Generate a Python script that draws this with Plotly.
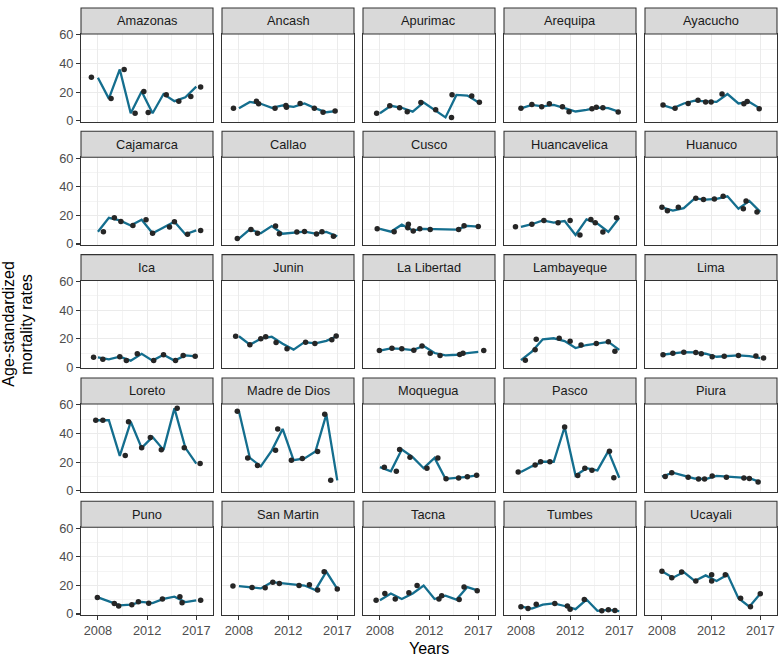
import plotly.graph_objects as go

provinces = ["Amazonas", "Ancash", "Apurimac", "Arequipa", "Ayacucho",
             "Cajamarca", "Callao", "Cusco", "Huancavelica", "Huanuco",
             "Ica", "Junin", "La Libertad", "Lambayeque", "Lima",
             "Loreto", "Madre de Dios", "Moquegua", "Pasco", "Piura",
             "Puno", "San Martin", "Tacna", "Tumbes", "Ucayali"]

years = [2008, 2009, 2010, 2011, 2012, 2013, 2014, 2015, 2016, 2017]

# line values (one list per province, years 2008..2017)
line_values = [
    [30, 15.4, 35.8, 5.2, 20.4, 5.2, 18.6, 13.6, 16.3, 23.8],
    [8.6, 13.1, 11.8, 9, 10.6, 9.7, 12, 8.6, 5.9, 6.8],
    [5.2, 10.4, 9, 6.3, 12.7, 7.7, 2.3, 18, 17.5, 12.9],
    [8.6, 11, 10, 11, 8.8, 6.4, 7.5, 9.1, 8.8, 6.1],
    [11, 8.6, 12, 14, 13.5, 13.1, 18.6, 12, 13, 8.4],
    [8.6, 18.3, 16.5, 12.9, 17, 7.5, 11.5, 15.6, 6.8, 9.5],
    [3.8, 10.2, 7.5, 12.5, 7.2, 8, 8.6, 7.2, 8.4, 5.4],
    [10.6, 8.6, 13.5, 9.5, 10.5, 10.3, 10.2, 10, 12.7, 12.2],
    [12, 13.8, 16.5, 15, 16, 6.3, 17.2, 14.3, 8.4, 18.3],
    [25.6, 23.3, 25, 31.9, 31, 31.5, 33.3, 24.7, 30.1, 22.4],
    [7, 5.6, 7.4, 4.7, 9.5, 4.7, 8.8, 4.7, 8.3, 7.7],
    [21.7, 15.8, 20, 21.4, 16.5, 12.4, 17.6, 16.7, 18.5, 21.9],
    [11.7, 13.3, 12.9, 12, 14.9, 10, 8.3, 8.8, 9.9, 10.8],
    [5, 11, 19.6, 20.3, 18.3, 13.5, 15.6, 16.7, 17.8, 12.2],
    [8.8, 9.9, 10.6, 10.4, 9.5, 7.4, 7.7, 8.3, 7.9, 6.5],
    [49.2, 49.2, 24.3, 48.1, 29.9, 37.5, 28.5, 57.5, 29.9, 18.9],
    [55.5, 22.9, 17, 28, 43.1, 21.3, 22.5, 27.4, 53.3, 7.2],
    [16.4, 13.5, 28.8, 23.4, 15.7, 22.9, 8.3, 8.8, 9.7, 10.8],
    [13, 17, 20.2, 20.2, 44.5, 10.6, 15.7, 14.2, 27.6, 9],
    [9.9, 12.6, 10.5, 8.5, 8.1, 10.3, 9.8, 9, 8.7, 6],
    [11.6, 9, 6, 6.5, 8.5, 7.6, 10.5, 12.1, 8.3, 9.6],
    [19.5, 18.8, 17.9, 22.2, 21.3, 20.4, 19.9, 16.8, 29.5, 17.5],
    [9.6, 14.3, 10.5, 14.3, 19.9, 10.5, 12.8, 10.1, 18.8, 16.3],
    [5.1, 3.8, 6.5, 7.4, 5.6, 3.4, 10.1, 2.2, 2.9, 2],
    [29.8, 25.3, 29.3, 23.1, 27, 23.1, 27.5, 11, 5.1, 14.1],
]

# observed (jittered) points: x positions
point_years = [
    [2007.4, 2009.2, 2010.4, 2011.4, 2012.2, 2012.6, 2014.25, 2015.4, 2016.5, 2017.4],
    [2007.5, 2009.6, 2009.8, 2011.3, 2012.3, 2012.35, 2013.6, 2014.9, 2015.7, 2016.8],
    [2007.7, 2008.9, 2009.8, 2010.5, 2011.75, 2013.1, 2014.55, 2014.6, 2016.4, 2017.1],
    [2008, 2009, 2009.9, 2010.6, 2011.8, 2012.4, 2014.5, 2014.9, 2015.5, 2016.9],
    [2008.1, 2009.2, 2010.4, 2011.3, 2012, 2012.5, 2013.5, 2015.5, 2015.8, 2016.9],
    [2008.5, 2009.5, 2010.1, 2011.2, 2012.4, 2013, 2014.55, 2015, 2016.2, 2017.4],
    [2007.85, 2009.1, 2009.7, 2011.35, 2011.7, 2013.3, 2014, 2015.1, 2015.6, 2016.65],
    [2007.75, 2009.3, 2010.6, 2010.55, 2011.05, 2011.65, 2012.6, 2015.2, 2015.7, 2017],
    [2007.5, 2009, 2010.1, 2011.4, 2012.5, 2013.4, 2014.4, 2014.8, 2015.5, 2016.75],
    [2008, 2008.5, 2009.5, 2011.1, 2011.8, 2012.8, 2013.6, 2015.45, 2015.7, 2016.7],
    [2007.6, 2008.45, 2010, 2010.6, 2011.6, 2013.1, 2014, 2015.1, 2015.8, 2016.9],
    [2007.7, 2009, 2010, 2010.45, 2011.4, 2012.4, 2014.1, 2014.95, 2016.5, 2016.9],
    [2007.95, 2009.1, 2010, 2011.1, 2011.85, 2012.6, 2013.5, 2015.3, 2015.6, 2017.5],
    [2008.4, 2009.3, 2009.4, 2011.5, 2012.5, 2013.5, 2014.9, 2016, 2016.6],
    [2008.1, 2009, 2010, 2011.1, 2011.6, 2012.6, 2013.7, 2015, 2016.6, 2017.3],
    [2007.8, 2008.45, 2010.5, 2010.8, 2012, 2012.8, 2013.8, 2015.25, 2015.9, 2017.35],
    [2007.85, 2008.8, 2009.7, 2011.35, 2011.55, 2012.8, 2013.8, 2015.2, 2015.85, 2016.4],
    [2008.4, 2009.5, 2009.8, 2010.75, 2012.3, 2013.3, 2014.05, 2015.2, 2016, 2016.85],
    [2007.75, 2009.3, 2009.8, 2010.65, 2012, 2013.2, 2013.85, 2014.5, 2016.1, 2016.5],
    [2008.3, 2008.9, 2010.4, 2011.35, 2011.9, 2012.6, 2013.9, 2015.5, 2016, 2016.8],
    [2007.95, 2009.5, 2009.9, 2011.1, 2011.7, 2012.65, 2013.9, 2015.5, 2015.7, 2017.4],
    [2007.45, 2009.2, 2010.4, 2011.1, 2011.7, 2013.5, 2014.45, 2015.2, 2015.8, 2017],
    [2007.65, 2008.45, 2009.4, 2010.65, 2011.4, 2013.4, 2013.65, 2015.25, 2015.7, 2016.9],
    [2008, 2008.65, 2009.4, 2011.1, 2012.25, 2012.5, 2013.8, 2015.4, 2016, 2016.6],
    [2008, 2008.9, 2009.8, 2011.1, 2012.55, 2012.55, 2013.8, 2015.2, 2016.1, 2017],
]

# observed points: rates
point_values = [
    [30.3, 15.4, 35.8, 5.2, 20.4, 5.7, 18.1, 13.6, 16.8, 23.5],
    [8.6, 13.6, 11.8, 8.6, 10.6, 9.3, 12, 8.6, 5.9, 6.8],
    [5.2, 10.4, 9, 6.3, 12.7, 7.7, 2.3, 18.1, 17.2, 12.9],
    [8.6, 11.3, 9.7, 11.8, 9.7, 6.3, 8.4, 9.3, 9, 6.1],
    [10.9, 8.6, 12, 14.3, 13.1, 13.1, 18.6, 11.8, 13.4, 8.4],
    [8.6, 18.3, 15.8, 12.9, 17, 7.5, 11.8, 15.6, 6.8, 9.5],
    [3.8, 10.2, 7.5, 12.5, 7.2, 8.4, 8.8, 7, 8.6, 5.4],
    [10.6, 8.6, 13.8, 11.3, 9, 10.6, 10.2, 10.2, 12.7, 12.2],
    [12, 13.8, 16.5, 14.9, 16.5, 6.3, 17.2, 14.9, 8.4, 18.3],
    [25.6, 23.3, 25.6, 31.9, 31, 31.5, 33.3, 24.7, 30.1, 22.4],
    [7, 5.6, 7.4, 4.7, 9.5, 4.7, 8.8, 4.7, 8.3, 7.7],
    [21.7, 15.8, 20, 21.4, 17.4, 12.9, 17.6, 16.7, 19.2, 21.9],
    [11.7, 13.3, 12.9, 12, 14.9, 9.9, 8.3, 9, 9.9, 11.7],
    [5, 12.2, 19.6, 20.3, 18.3, 15.6, 16.7, 17.8, 11.3],
    [8.8, 9.9, 10.6, 10.4, 9.5, 7.4, 7.7, 8.3, 7.9, 6.5],
    [49.2, 49.2, 24.5, 48.1, 29.9, 37.1, 28.5, 57.5, 29.9, 18.9],
    [55.5, 22.9, 17.5, 28.3, 43.1, 21.3, 22.5, 27.4, 53.3, 7.2],
    [16.4, 13.5, 28.8, 23.4, 15.7, 22.9, 8.3, 8.8, 9.7, 10.8],
    [13, 18, 20.2, 20.2, 44.5, 10.6, 15.7, 14.2, 27.6, 9],
    [9.9, 12.6, 9.4, 8.1, 8.1, 10.3, 9.4, 8.8, 8.5, 6],
    [11.6, 7.4, 5.6, 6.5, 8.5, 7.6, 10.5, 12.1, 7.8, 9.6],
    [19.5, 18.6, 18.4, 22.2, 21.3, 19.9, 20.4, 16.8, 29.5, 17.5],
    [9.6, 14.3, 10.5, 14.8, 19.9, 10.5, 12.8, 10.1, 18.8, 16.3],
    [5.1, 3.8, 6.9, 7.4, 5.6, 3.4, 10.1, 2.2, 2.9, 2.5],
    [29.8, 25.3, 29.3, 23.1, 27.5, 23.1, 27.5, 11, 5.1, 14.1],
]

x_tick_vals = [2008, 2012.5, 2017]
x_tick_text = ["2008", "2012", "2017"]
y_tick_vals = [0, 20, 40, 60]

W, H = 778, 662
FONT = "Liberation Sans, Arial, Helvetica, sans-serif"
LINE_COLOR = "#146E8E"
POINT_COLOR = "#262626"
GRID = "#EBEBEB"
BORDER = "#333333"

col_left = [81 + 141 * c for c in range(5)]
panel_w = 132
strip_top = [1 + 126.0 * r for r in range(5)]
strip_h = 26.5
panel_h = 89.5

fig = go.Figure()
layout = {}
shapes = []
annotations = []

for i, prov in enumerate(provinces):
    r, c = divmod(i, 5)
    n = i + 1
    s = "" if n == 1 else str(n)
    x0 = col_left[c]
    x1 = x0 + panel_w
    ytop = strip_top[r] + strip_h
    ybot = ytop + panel_h

    fig.add_trace(go.Scatter(x=years, y=line_values[i], mode="lines",
                             line=dict(color=LINE_COLOR, width=2.3),
                             xaxis="x" + s, yaxis="y" + s, hoverinfo="skip",
                             showlegend=False))
    fig.add_trace(go.Scatter(x=point_years[i], y=point_values[i], mode="markers",
                             marker=dict(color=POINT_COLOR, size=5.5),
                             xaxis="x" + s, yaxis="y" + s, showlegend=False))

    bottom = (r == 4)
    left = (c == 0)
    layout["xaxis" + s] = dict(
        domain=[x0 / W, x1 / W], anchor="y" + s, range=[2006.45, 2018.53],
        tickmode="array", tickvals=x_tick_vals, ticktext=x_tick_text,
        showticklabels=bottom, ticks="outside" if bottom else "",
        ticklen=4, tickwidth=1.07, tickcolor=BORDER,
        tickfont=dict(family=FONT, size=12.8, color="#4D4D4D"),
        showgrid=True, gridcolor=GRID, gridwidth=1.07,
        minor=dict(tickmode="array", tickvals=[2010.25, 2014.75], showgrid=True,
                   gridcolor=GRID, gridwidth=0.55),
        showline=True, mirror=True, linecolor=BORDER, linewidth=1.07,
        zeroline=False, fixedrange=True)
    layout["yaxis" + s] = dict(
        domain=[1 - ybot / H, 1 - ytop / H], anchor="x" + s, range=[-0.6, 60.6],
        tickmode="array", tickvals=y_tick_vals,
        showticklabels=left, ticks="outside" if left else "",
        ticklen=4, tickwidth=1.07, tickcolor=BORDER,
        tickfont=dict(family=FONT, size=12.8, color="#4D4D4D"),
        showgrid=True, gridcolor=GRID, gridwidth=1.07,
        minor=dict(tickmode="array", tickvals=[10, 30, 50], showgrid=True,
                   gridcolor=GRID, gridwidth=0.55),
        showline=True, mirror=True, linecolor=BORDER, linewidth=1.07,
        zeroline=False, fixedrange=True)

    shapes.append(dict(type="rect", xref="paper", yref="paper",
                       x0=x0 / W, x1=x1 / W,
                       y0=1 - ytop / H, y1=1 - strip_top[r] / H,
                       fillcolor="#D9D9D9", line=dict(color=BORDER, width=1.07),
                       layer="above"))
    annotations.append(dict(text=prov, xref="paper", yref="paper",
                            x=(x0 + x1) / 2 / W,
                            y=1 - (strip_top[r] + strip_h / 2) / H,
                            xanchor="center", yanchor="middle", showarrow=False,
                            font=dict(family=FONT, size=12.8, color="#1A1A1A")))

annotations.append(dict(text="Years", xref="paper", yref="paper",
                        x=(81 + 777) / 2 / W, y=1 - 655 / H,
                        xanchor="center", yanchor="middle", showarrow=False,
                        font=dict(family=FONT, size=16, color="#000000")))
annotations.append(dict(text="Age-standardized", xref="paper", yref="paper",
                        x=9 / W, y=1 - 324.5 / H, textangle=-90,
                        xanchor="center", yanchor="middle", showarrow=False,
                        font=dict(family=FONT, size=16, color="#000000")))
annotations.append(dict(text="mortality rates", xref="paper", yref="paper",
                        x=27 / W, y=1 - 324.5 / H, textangle=-90,
                        xanchor="center", yanchor="middle", showarrow=False,
                        font=dict(family=FONT, size=16, color="#000000")))

fig.update_layout(
    width=W, height=H,
    margin=dict(l=0, r=0, t=0, b=0),
    paper_bgcolor="white", plot_bgcolor="white",
    showlegend=False, hovermode=False,
    font=dict(family=FONT),
    shapes=shapes, annotations=annotations,
    **layout)

fig.write_html("out.html",
               config={"displayModeBar": False, "staticPlot": True},
               post_script="document.body.style.margin='0px';document.body.style.overflow='hidden';")
